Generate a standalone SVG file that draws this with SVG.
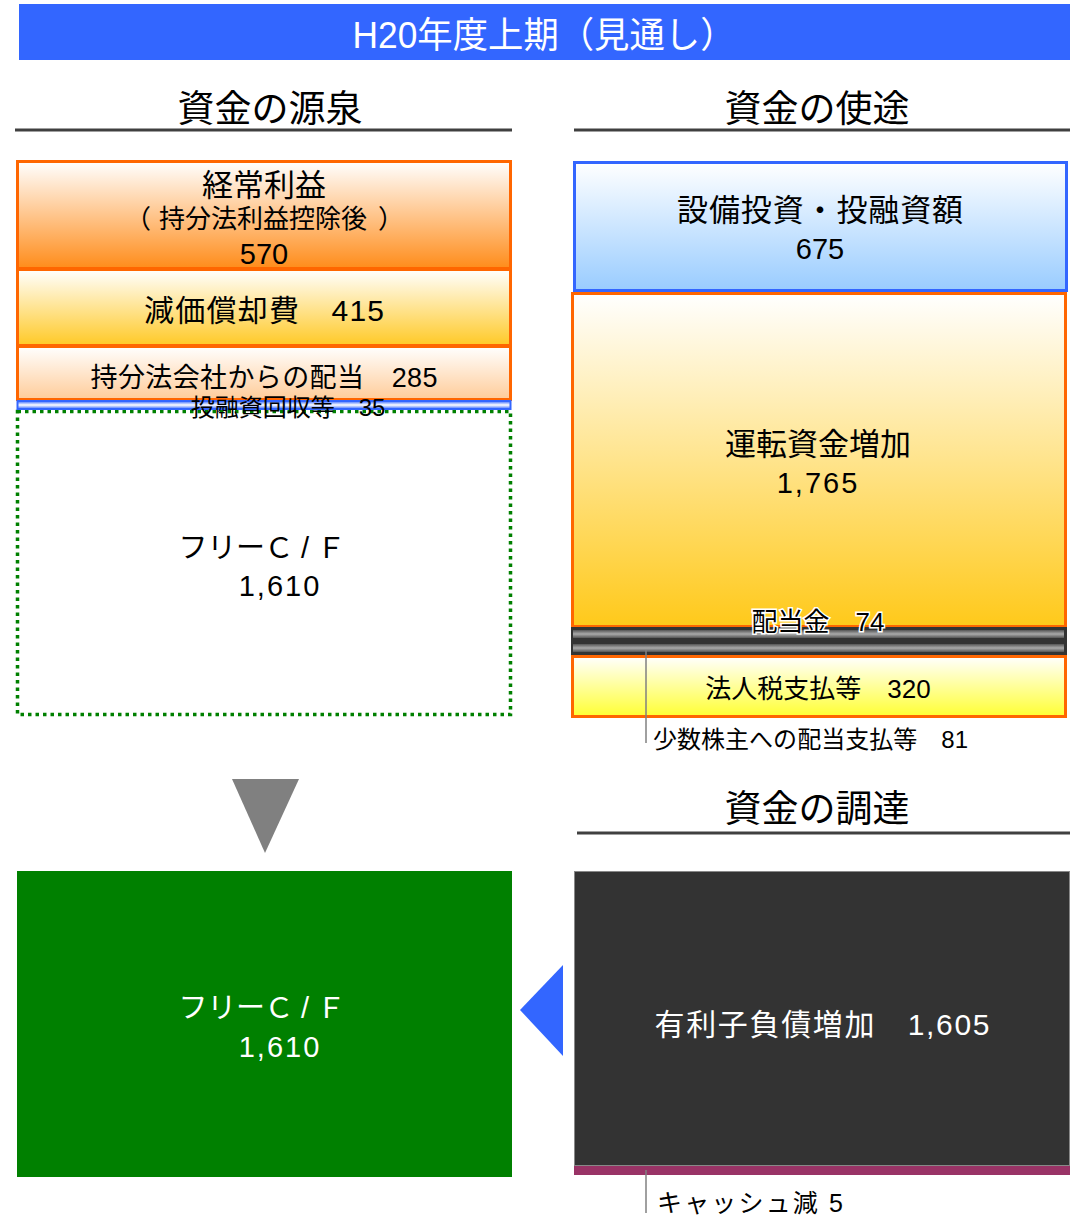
<svg xmlns="http://www.w3.org/2000/svg" width="1070" height="1215" viewBox="0 0 1070 1215">
<style>
text{font-family:"Liberation Sans","Noto Sans CJK JP",sans-serif;text-anchor:middle;fill:#000}
.w{fill:#fff}
.hd{font-size:37px}
.ul{stroke:#404040;stroke-width:3}
.ob{stroke:#FF6600;stroke-width:3}
.call{stroke:#808080;stroke-width:1.5}
</style>
<defs>
<linearGradient id="g1" x1="0" y1="0" x2="0" y2="1"><stop offset="0" stop-color="#fff"/><stop offset="1" stop-color="#FF8C1A"/></linearGradient>
<linearGradient id="g2" x1="0" y1="0" x2="0" y2="1"><stop offset="0" stop-color="#fff"/><stop offset="1" stop-color="#FFC926"/></linearGradient>
<linearGradient id="g3" x1="0" y1="0" x2="0" y2="1"><stop offset="0" stop-color="#fff"/><stop offset="1" stop-color="#FFCC99"/></linearGradient>
<linearGradient id="g4" x1="0" y1="0" x2="0" y2="1"><stop offset="0" stop-color="#fff"/><stop offset="1" stop-color="#99CCFF"/></linearGradient>
<linearGradient id="g5" x1="0" y1="0" x2="0" y2="1"><stop offset="0" stop-color="#fff"/><stop offset="1" stop-color="#FFC91A"/></linearGradient>
<linearGradient id="g6" x1="0" y1="0" x2="0" y2="1"><stop offset="0" stop-color="#fff"/><stop offset="1" stop-color="#FFFF33"/></linearGradient>
<linearGradient id="gb" x1="0" y1="0" x2="0" y2="1"><stop offset="0" stop-color="#3366FF"/><stop offset="0.5" stop-color="#fff"/><stop offset="1" stop-color="#3366FF"/></linearGradient>
<linearGradient id="gg" x1="0" y1="0" x2="0" y2="1"><stop offset="0" stop-color="#555"/><stop offset="0.5" stop-color="#aaa"/><stop offset="1" stop-color="#555"/></linearGradient>
</defs>

<g id="title">
<rect x="19" y="4" width="1051" height="56" fill="#3366FF"/>
<text class="w" x="544" y="48" font-size="36" textLength="383" lengthAdjust="spacingAndGlyphs">H20年度上期（見通し）</text>
</g>

<g id="header-sources">
<text class="hd" x="270" y="122">資金の源泉</text>
<line class="ul" x1="15" y1="130" x2="512" y2="130"/>
</g>
<g id="header-uses">
<text class="hd" x="817" y="122">資金の使途</text>
<line class="ul" x1="574" y1="130" x2="1070" y2="130"/>
</g>
<g id="header-funding">
<text class="hd" x="817" y="822">資金の調達</text>
<line class="ul" x1="577" y1="833" x2="1070" y2="833"/>
</g>

<g id="ordinary-profit">
<rect class="ob" x="17.5" y="161.5" width="493" height="107" fill="url(#g1)"/>
<text x="264" y="196" font-size="31">経常利益</text>
<text y="228" font-size="26" style="text-anchor:start"><tspan x="125">（</tspan><tspan x="159">持分法利益控除後</tspan><tspan x="378">）</tspan></text>
<text x="264" y="264" font-size="29">570</text>
</g>
<g id="depreciation">
<rect class="ob" x="17.5" y="269.5" width="493" height="76" fill="url(#g2)"/>
<text x="264" y="321" font-size="30" textLength="240" lengthAdjust="spacing">減価償却費　415</text>
</g>
<g id="equity-dividend">
<rect class="ob" x="17.5" y="346.5" width="493" height="53" fill="url(#g3)"/>
<text x="264" y="387" font-size="27" textLength="347" lengthAdjust="spacing">持分法会社からの配当　285</text>
</g>
<g id="free-cf-dotted">
<rect x="17.5" y="411.5" width="493" height="303" fill="#fff" stroke="#008000" stroke-width="3.5" stroke-dasharray="3.5,4"/>
<text x="262" y="558" font-size="29" textLength="167" lengthAdjust="spacing">フリーＣ / Ｆ</text>
<text x="280" y="596" font-size="29" letter-spacing="2">1,610</text>
</g>
<g id="investment-recovery">
<rect x="17.5" y="401" width="493" height="8" fill="url(#gb)" stroke="#3366FF" stroke-width="2"/>
<text x="288" y="416" font-size="24">投融資回収等　35</text>
</g>

<g id="capex">
<rect x="574.5" y="162.5" width="492" height="128" fill="url(#g4)" stroke="#3366FF" stroke-width="3"/>
<text x="820" y="221" font-size="31" textLength="286" lengthAdjust="spacing">設備投資・投融資額</text>
<text x="820" y="259" font-size="29">675</text>
</g>
<g id="working-capital">
<rect class="ob" x="572.5" y="293.5" width="493" height="333" fill="url(#g5)"/>
<text x="818" y="455" font-size="31">運転資金増加</text>
<text x="818" y="493" font-size="29" letter-spacing="2">1,765</text>
</g>
<g id="dividends-bar">
<rect x="571" y="627" width="496" height="28" fill="#333"/>
<rect x="573" y="630" width="491" height="8" fill="url(#gg)"/>
<rect x="573" y="644" width="491" height="8" fill="url(#gg)"/>
<text x="818" y="631" font-size="26" stroke="#fff" stroke-width="3" paint-order="stroke">配当金　74</text>
</g>
<g id="tax">
<rect class="ob" x="572.5" y="656.5" width="493" height="60" fill="url(#g6)"/>
<text x="818" y="698" font-size="26">法人税支払等　320</text>
</g>
<g id="minority-label">
<text x="653" y="748" font-size="24" style="text-anchor:start" textLength="315" lengthAdjust="spacing">少数株主への配当支払等　81</text>
</g>

<g id="free-cf">
<rect x="17" y="871" width="495" height="306" fill="#008000"/>
<text class="w" x="262" y="1018" font-size="29" textLength="167" lengthAdjust="spacing">フリーＣ / Ｆ</text>
<text class="w" x="280" y="1057" font-size="29" letter-spacing="2">1,610</text>
</g>
<g id="debt-increase">
<rect x="574.5" y="871.5" width="495" height="294" fill="#333" stroke="#888" stroke-width="1"/>
<rect x="574" y="1166" width="496" height="9" fill="#993366"/>
<text class="w" x="822" y="1035" font-size="30" textLength="335" lengthAdjust="spacing">有利子負債増加　1,605</text>
</g>
<g id="cash-label">
<text x="657" y="1212" font-size="25" style="text-anchor:start" textLength="186" lengthAdjust="spacing">キャッシュ減 5</text>
</g>

<g id="connectors">
<polygon points="232,779 299,779 265,853" fill="#808080"/>
<polygon points="520,1010 563,965 563,1056" fill="#3366FF"/>
<line class="call" x1="646" y1="650" x2="646" y2="743"/>
<line class="call" x1="646" y1="1170" x2="646" y2="1213"/>
</g>
</svg>
